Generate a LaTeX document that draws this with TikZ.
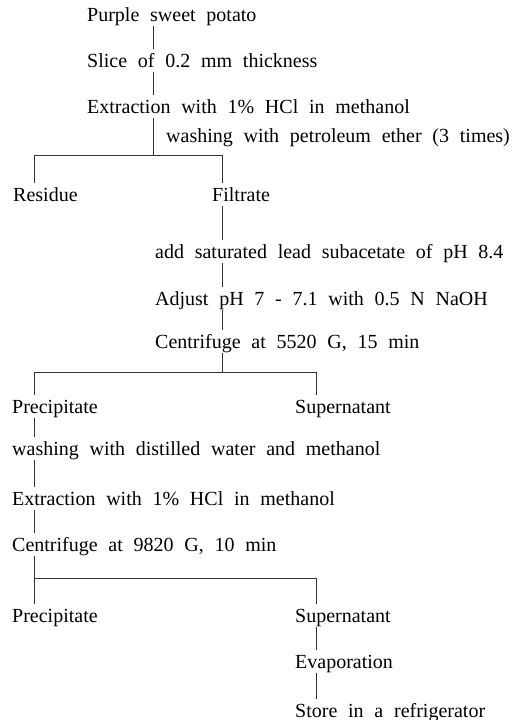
\documentclass[tikz,border=0pt]{standalone}
\usepackage{fontspec}
\setmainfont{Liberation Serif}[WordSpace=2.15]
\begin{document}
\begin{tikzpicture}[x=1pt,y=-1pt,
  lbl/.style={anchor=base west,inner sep=0pt,text height=18pt,text depth=5pt,
    font=\fontsize{20}{24}\selectfont},
  conn/.style={line width=0.7pt,draw=black!80}]
\path[use as bounding box] (0,0) rectangle (519,720);
% nodes
\node[lbl] (p1) at (87,21) {Purple sweet potato};
\node[lbl] (p2) at (87,67) {Slice of 0.2 mm thickness};
\node[lbl] (p3) at (87,113) {Extraction with 1\% HCl in methanol};
\node[lbl] (wp) at (166,142) {washing with petroleum ether (3 times)};
\node[lbl] (res) at (13,201) {Residue};
\node[lbl] (filt) at (212,201) {Filtrate};
\node[lbl] (add) at (155,258) {add saturated lead subacetate of pH 8.4};
\node[lbl] (adj) at (155,305) {Adjust pH 7 - 7.1 with 0.5 N NaOH};
\node[lbl] (cen1) at (155,348) {Centrifuge at 5520 G, 15 min};
\node[lbl] (prec1) at (12,413) {Precipitate};
\node[lbl] (sup1) at (295,413) {Supernatant};
\node[lbl] (wash2) at (12,455) {washing with distilled water and methanol};
\node[lbl] (ext2) at (12,505) {Extraction with 1\% HCl in methanol};
\node[lbl] (cen2) at (12,551) {Centrifuge at 9820 G, 10 min};
\node[lbl] (prec2) at (12,622) {Precipitate};
\node[lbl] (sup2) at (295,622) {Supernatant};
\node[lbl] (evap) at (295,668) {Evaporation};
\node[lbl] (store) at (295,717) {Store in a refrigerator};
% branch coordinates
\coordinate (xa) at (153,0);
\coordinate (b1) at (153,155);
\coordinate (b1L) at (34,155);
\coordinate (b1R) at (222,155);
\coordinate (b2) at (222,372);
\coordinate (b2L) at (34,372);
\coordinate (b2R) at (316,372);
\coordinate (b3) at (34,578);
\coordinate (b3R) at (316,578);
% connectors
\draw[conn] (p1.south -| xa) -- (p2.north -| xa);
\draw[conn] (p2.south -| xa) -- (p3.north -| xa);
\draw[conn] (p3.south -| xa) -- (b1);
\draw[conn] (res.north -| b1L) -- (b1L) -- (b1R) -- (filt.north -| b1R);
\draw[conn] (filt.south -| b1R) -- (add.north -| b1R);
\draw[conn] (add.south -| b1R) -- (adj.north -| b1R);
\draw[conn] (adj.south -| b1R) -- (cen1.north -| b1R);
\draw[conn] (cen1.south -| b2) -- (b2);
\draw[conn] (prec1.north -| b2L) -- (b2L) -- (b2R) -- (sup1.north -| b2R);
\draw[conn] (prec1.south -| b2L) -- (wash2.north -| b2L);
\draw[conn] (wash2.south -| b2L) -- (ext2.north -| b2L);
\draw[conn] (ext2.south -| b2L) -- (cen2.north -| b2L);
\draw[conn] (cen2.south -| b3) -- (prec2.north -| b3);
\draw[conn] (b3) -- (b3R) -- (sup2.north -| b3R);
\draw[conn] (sup2.south -| b3R) -- (evap.north -| b3R);
\draw[conn] (evap.south -| b3R) -- (store.north -| b3R);
\end{tikzpicture}
\end{document}
